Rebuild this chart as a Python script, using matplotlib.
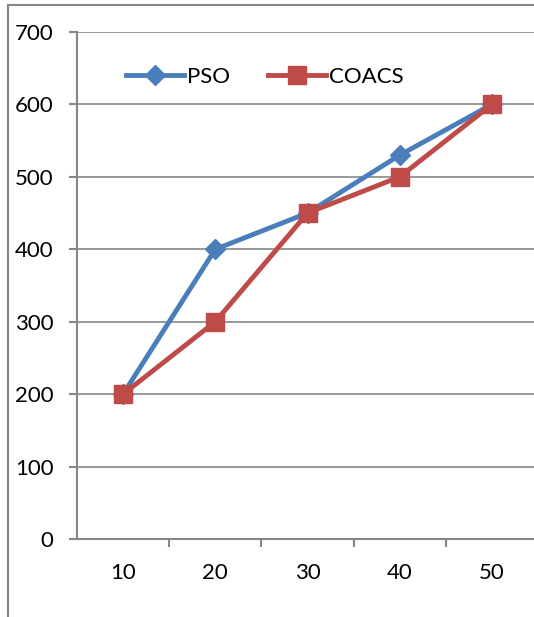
import matplotlib
matplotlib.use("Agg")
import matplotlib.pyplot as plt
from matplotlib.lines import Line2D

categories = ["10", "20", "30", "40", "50"]
pso = [200, 400, 450, 530, 600]
coacs = [200, 300, 450, 500, 600]
yticks = [0, 100, 200, 300, 400, 500, 600, 700]

plt.rcParams['font.family'] = ['Lato', 'DejaVu Sans']

W, H = 534, 617
fig = plt.figure(figsize=(W/100, H/100), dpi=100)
left, right = 77/W, 538/W
bottom, top = 1 - 539/H, 1 - 32/H
ax = fig.add_axes([left, bottom, right-left, top-bottom])

x = list(range(1, len(categories)+1))
ax.plot(x, pso, color='#4A7EBB', lw=3.5, marker='D', markersize=10, label='PSO', zorder=3)
ax.plot(x, coacs, color='#BE4B48', lw=3.5, marker='s', markersize=13, label='COACS', zorder=4)

ax.set_xlim(0.5, 5.5)
ax.set_ylim(0, 700)
ax.set_yticks(yticks)
ax.set_xticks(x)
ax.set_xticklabels(categories)
ax.set_xticks([1.5, 2.5, 3.5, 4.5], minor=True)
ax.yaxis.grid(True, color='#868686', lw=1.2)
ax.set_axisbelow(True)
for s in ['top', 'right']:
    ax.spines[s].set_visible(False)
for s in ['left', 'bottom']:
    ax.spines[s].set_color('#868686')
    ax.spines[s].set_linewidth(1.5)
ax.tick_params(axis='y', direction='out', length=6, width=1.5, color='#868686', pad=11, labelsize=16)
ax.tick_params(axis='x', which='major', length=0, pad=17, labelsize=16)
ax.tick_params(axis='x', which='minor', direction='out', length=6, width=1.5, color='#868686')

leg = ax.legend(loc='upper left', bbox_to_anchor=(0.063, 0.97), ncol=2, frameon=False,
                fontsize=16, handlelength=2.6, handletextpad=0.15, columnspacing=1.7)

fig.add_artist(Line2D([8/W, 8/W], [0, 1 - 5/H], color='#868686', lw=1.5, transform=fig.transFigure))
fig.add_artist(Line2D([8/W, 1], [1 - 5/H, 1 - 5/H], color='#868686', lw=1.5, transform=fig.transFigure))

fig.savefig("out.png", dpi=100)
